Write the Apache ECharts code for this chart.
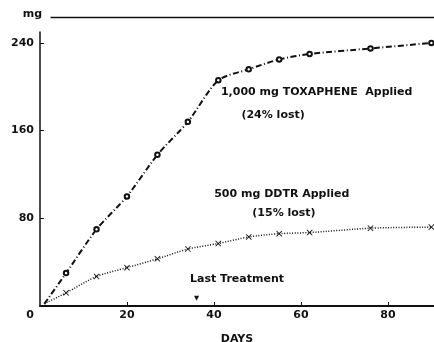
<!DOCTYPE html>
<html>
<head>
<meta charset="utf-8">
<script src="https://cdn.jsdelivr.net/npm/echarts@6/dist/echarts.min.js"></script>
<style>
  html, body { margin: 0; padding: 0; background: #fff; }
  #chart { width: 434px; height: 342px; }
</style>
</head>
<body>
<div id="chart"></div>
<script>
// sampling days (first point = start of both curves)
const days = [1, 6, 13, 20, 27, 34, 41, 48, 55, 62, 76, 90];
// cumulative mg lost
const toxaphene = [2, 30, 70, 100, 138, 168, 206, 216, 225, 230, 235, 240];
const ddtr = [2, 12, 27, 35, 43, 52, 57, 63, 66, 67, 71, 72];

const yTicks = [80, 160, 240];
const xTicks = [0, 20, 40, 60, 80];

// text notes placed in data space: [day, mg]
const notes = [
  { text: "1,000 mg TOXAPHENE  Applied", day: 41.6, mg: 195, align: "left" },
  { text: "(24% lost)", day: 53.6, mg: 174, align: "center" },
  { text: "500 mg DDTR Applied", day: 55.6, mg: 102, align: "center" },
  { text: "(15% lost)", day: 56.1, mg: 85, align: "center" },
  { text: "Last Treatment", day: 45.3, mg: 24.7, align: "center" }
];
const lastTreatmentDay = 36;

const FONT = "DejaVu Sans";
const INK = "#111";
const crossPath = "path://M0,1L1,0L5,4L9,0L10,1L6,5L10,9L9,10L5,6L1,10L0,9L4,5Z";

function pairs(vals) {
  return days.map((d, i) => i === 0 ? { value: [d, vals[i]], symbol: "none" } : [d, vals[i]]);
}

const chart = echarts.init(document.getElementById("chart"), null, { renderer: "canvas" });

const option = {
  animation: false,
  backgroundColor: "#fff",
  grid: { left: 40, right: 0, top: 32, bottom: 36, containLabel: false, outerBoundsMode: "none" },
  textStyle: { fontFamily: FONT, color: INK },
  xAxis: {
    type: "value",
    min: 0,
    max: 90.6,
    interval: 20,
    name: "DAYS",
    nameLocation: "middle",
    nameGap: 28,
    nameTextStyle: { fontFamily: FONT, fontSize: 11, fontWeight: "bold", color: INK },
    axisLine: { show: true, lineStyle: { color: INK, width: 2 } },
    axisTick: { show: true, inside: true, length: 4, lineStyle: { color: INK, width: 1 },
      customValues: xTicks.filter(v => v > 0) },
    axisLabel: { fontFamily: FONT, fontSize: 11, fontWeight: "bold", color: INK, margin: 4,
      customValues: xTicks, alignMinLabel: "right",
      formatter: v => v === 0 ? "{z|0}" : String(v),
      rich: { z: { fontFamily: FONT, fontSize: 11, fontWeight: "bold", color: INK, padding: [0, 6, 0, 0] } } },
    splitLine: { show: false }
  },
  yAxis: {
    type: "value",
    min: 0,
    max: 250,
    name: "mg",
    nameLocation: "end",
    nameGap: 12,
    nameTextStyle: { fontFamily: FONT, fontSize: 11, fontWeight: "bold", color: INK, align: "right", padding: [0, -2, 0, 0] },
    axisLine: { show: true, lineStyle: { color: INK, width: 1.5 } },
    axisTick: { show: true, inside: true, length: 4, customValues: yTicks, lineStyle: { color: INK, width: 1 } },
    axisLabel: { fontFamily: FONT, fontSize: 11, fontWeight: "bold", color: INK, margin: 6,
      customValues: yTicks, formatter: v => String(v) },
    splitLine: { show: false }
  },
  series: [
    {
      name: "TOXAPHENE",
      type: "line",
      data: pairs(toxaphene),
      smooth: 0.25,
      symbol: "emptyCircle",
      symbolSize: 4.5,
      itemStyle: { color: INK, borderWidth: 1 },
      lineStyle: { color: INK, width: 2, type: [6, 2.5, 1, 2.5] },
      z: 3
    },
    {
      name: "DDTR",
      type: "line",
      data: pairs(ddtr),
      smooth: 0.25,
      symbol: crossPath,
      symbolSize: 6,
      itemStyle: { color: INK },
      lineStyle: { color: INK, width: 1.5, type: [1, 1.6] },
      markPoint: {
        symbol: "triangle",
        symbolSize: [5, 5],
        symbolRotate: 180,
        itemStyle: { color: INK },
        label: { show: false },
        data: [{ coord: [lastTreatmentDay, 7] }]
      },
      z: 3
    }
  ]
};

chart.setOption(option);

// text notes + the "mg" frame line, positioned through the axes
const graphics = notes.map(n => {
  const [px, py] = chart.convertToPixel({ gridIndex: 0 }, [n.day, n.mg]);
  return {
    type: "text",
    x: px,
    y: py,
    z: 10,
    style: {
      text: n.text,
      fill: INK,
      font: "bold 11px '" + FONT + "'",
      align: n.align,
      verticalAlign: "middle"
    }
  };
});
graphics.push({ type: "line", left: 48, top: 15, shape: { x1: 0, y1: 0, x2: 386, y2: 0 },
  style: { stroke: INK, lineWidth: 1.5 } });

chart.setOption({ graphic: graphics });
</script>
</body>
</html>
